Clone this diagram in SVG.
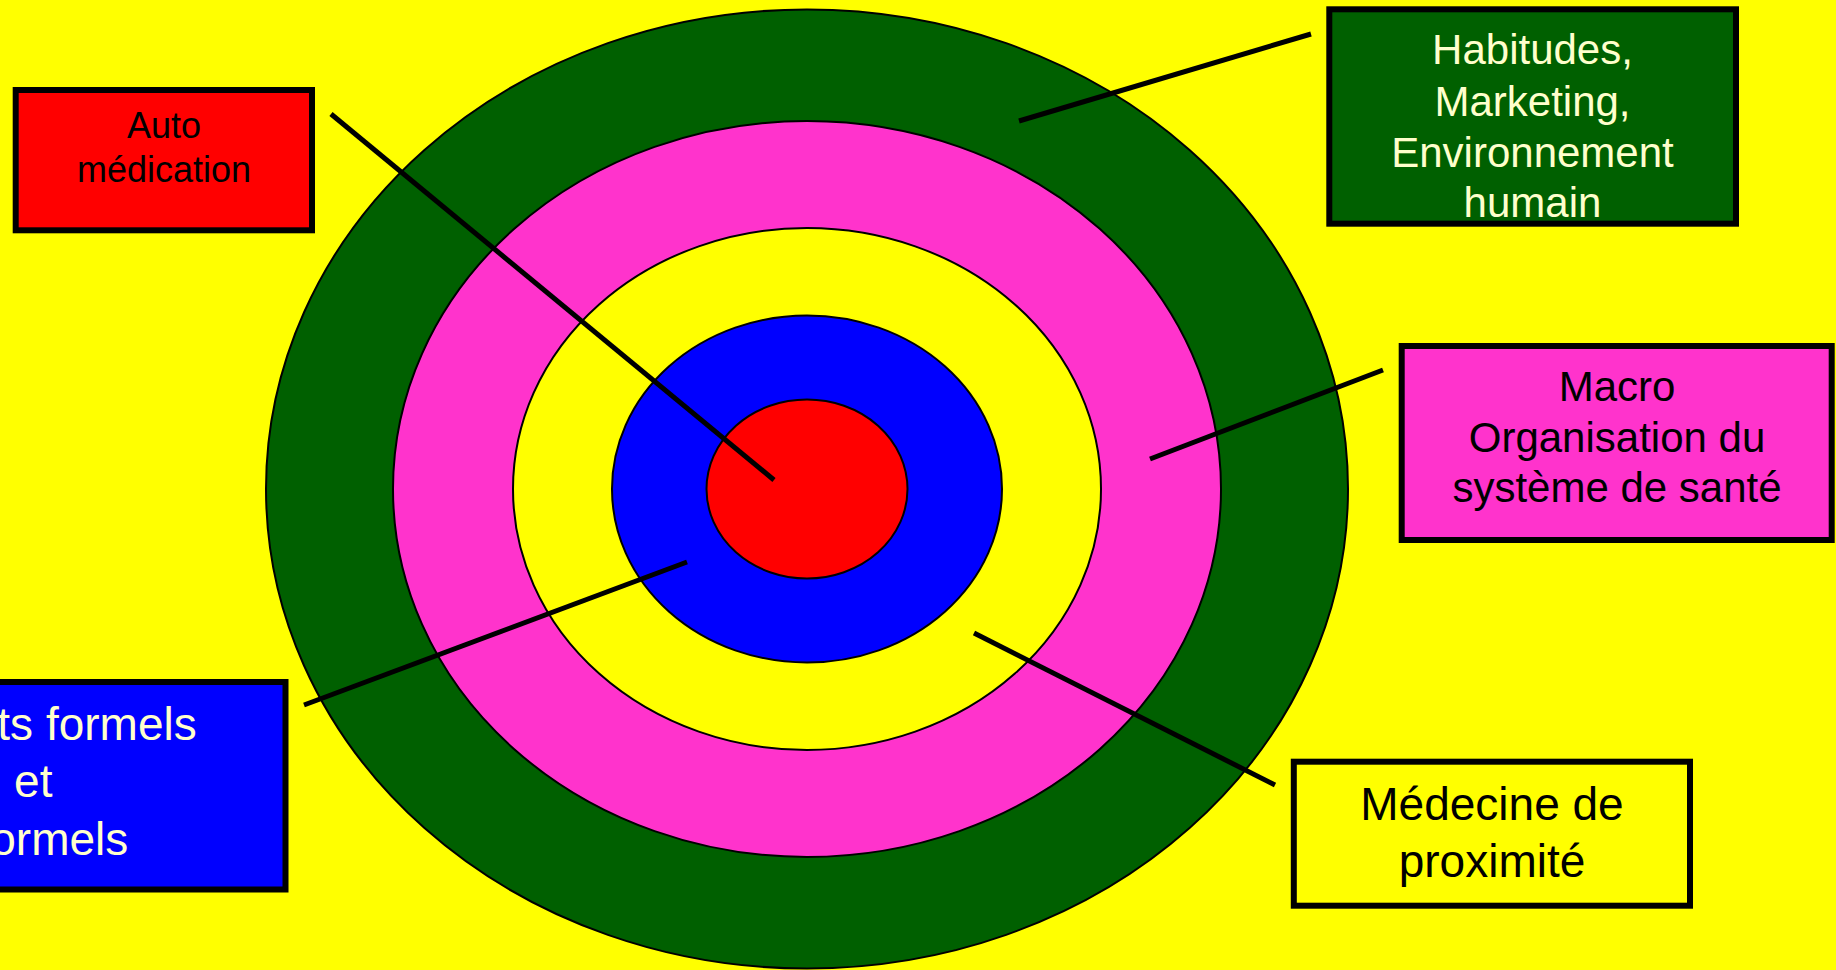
<svg xmlns="http://www.w3.org/2000/svg" width="1836" height="970" viewBox="0 0 1836 970">
<style>
.ring{stroke:#000;stroke-width:2}
.box{stroke:#000;stroke-width:6}
.lead{stroke:#000;stroke-width:5;fill:none}
text{font-family:"Liberation Sans",Arial,sans-serif;text-anchor:middle}
.dark{fill:#000}
.light{fill:#FFFFCC}
</style>
<rect x="0" y="0" width="1836" height="970" fill="#FFFF00"/>
<g id="target">
<ellipse class="ring" cx="807" cy="489" rx="541" ry="479.5" fill="#006000"/>
<ellipse class="ring" cx="807" cy="489" rx="414" ry="368" fill="#FF33CC"/>
<ellipse class="ring" cx="807" cy="489" rx="294" ry="261" fill="#FFFF00"/>
<ellipse class="ring" cx="807" cy="489" rx="195" ry="173.5" fill="#0000FF"/>
<ellipse class="ring" cx="807" cy="489" rx="100.5" ry="89.5" fill="#FF0000"/>
</g>
<g id="connectors">
<line class="lead" x1="331" y1="114" x2="774" y2="480"/>
<line class="lead" x1="1019" y1="121" x2="1311" y2="34"/>
<line class="lead" x1="1150" y1="459" x2="1383" y2="370"/>
<line class="lead" x1="304" y1="705" x2="687" y2="562"/>
<line class="lead" x1="974" y1="633" x2="1275" y2="785"/>
</g>
<g id="node-auto">
<rect class="box" x="15.7" y="90" width="296.3" height="140.3" fill="#FF0000"/>
<text class="dark" font-size="36" x="164" y="138.3">Auto</text>
<text class="dark" font-size="36" x="164" y="181.7">médication</text>
</g>
<g id="node-habitudes">
<rect class="box" x="1329.3" y="9.3" width="406.7" height="214.4" fill="#006000"/>
<text class="light" font-size="42" x="1532.5" y="64">Habitudes,</text>
<text class="light" font-size="42" x="1532.5" y="116">Marketing,</text>
<text class="light" font-size="42" x="1532.5" y="166.7">Environnement</text>
<text class="light" font-size="42" x="1532.5" y="217.3">humain</text>
</g>
<g id="node-macro">
<rect class="box" x="1401.7" y="346" width="430" height="194" fill="#FF33CC"/>
<text class="dark" font-size="42" x="1617" y="400.7">Macro</text>
<text class="dark" font-size="42" x="1617" y="451.7">Organisation du</text>
<text class="dark" font-size="42" x="1617" y="501.7">système de santé</text>
</g>
<g id="node-medecine">
<rect class="box" x="1293.8" y="761.7" width="396.2" height="144" fill="#FFFF00"/>
<text class="dark" font-size="46" x="1492" y="820">Médecine de</text>
<text class="dark" font-size="46" x="1492" y="877.3">proximité</text>
</g>
<g id="node-aidants">
<rect class="box" x="-220" y="682" width="505.5" height="207.5" fill="#0000FF"/>
<text class="light" font-size="46" x="196.7" y="740" style="text-anchor:end">ts formels</text>
<text class="light" font-size="46" x="33.3" y="797.3">et</text>
<text class="light" font-size="46" x="128.3" y="855" style="text-anchor:end">ormels</text>
</g>
</svg>
